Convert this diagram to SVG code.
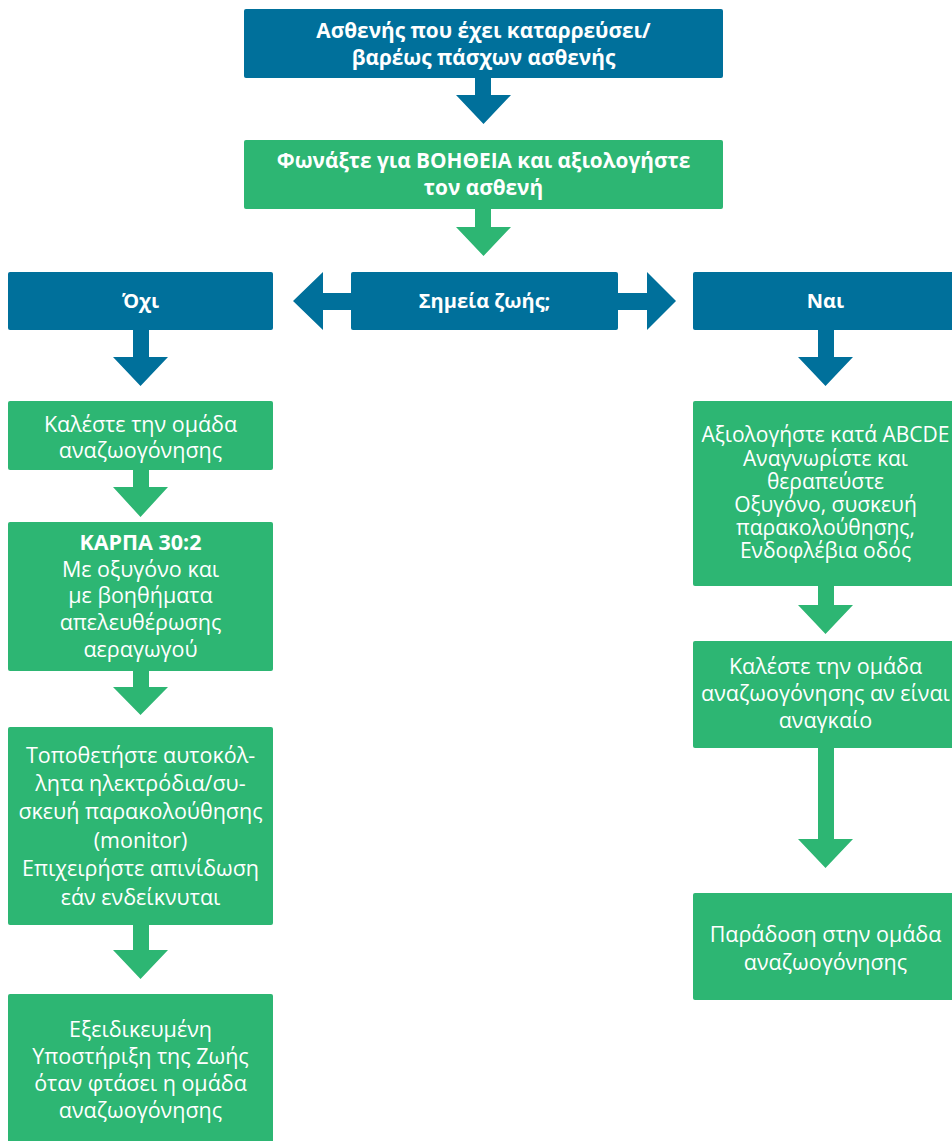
<svg xmlns="http://www.w3.org/2000/svg" width="952" height="1141" viewBox="0 0 952 1141">
<style>
.blue{fill:#00709b}
.green{fill:#2db673}
.t{font-family:"Open Sans","Noto Sans","DejaVu Sans",sans-serif;fill:#fff;text-anchor:middle;font-size:21.5px}
.b{font-weight:bold;font-size:20.8px}
.c{font-weight:bold;font-size:20px}
.s{font-size:21px}
</style>
<rect width="952" height="1141" fill="#fff"/>
<g id="connectors">
<path class="blue" d="M475,77 H491 V95 H511 L483.5,124 L456,95 H475 Z"/>
<path class="green" d="M475,209 H491 V227 H511 L483.5,256 L456,227 H475 Z"/>
<path class="blue" d="M351,293 V310 H323 V330 L293,301 L323,272 V293 Z"/>
<path class="blue" d="M618,293 V310 H647 V330 L676,301 L647,272 V293 Z"/>
<path class="blue" d="M133,329 H149 V357 H168 L140.5,386 L113,357 H133 Z"/>
<path class="blue" d="M818,329 H834 V357 H853 L825.5,386 L798,357 H818 Z"/>
<path class="green" d="M133,470 H149 V487 H168 L140.5,517 L113,487 H133 Z"/>
<path class="green" d="M133,671 H149 V687 H168 L140.5,715 L113,687 H133 Z"/>
<path class="green" d="M133,925 H149 V950 H168 L140.5,979 L113,950 H133 Z"/>
<path class="green" d="M818,586 H834 V605 H853 L825.5,634 L798,605 H818 Z"/>
<path class="green" d="M818,747 H834 V839 H853 L825.5,868 L798,839 H818 Z"/>
</g>
<g id="n1"><rect class="blue" x="244" y="9" width="479" height="69" rx="2"/>
<text class="t b" x="483.5" y="38">Ασθενής που έχει καταρρεύσει/</text>
<text class="t b" x="483.5" y="65">βαρέως πάσχων ασθενής</text></g>
<g id="n2"><rect class="green" x="244" y="140" width="479" height="69" rx="2"/>
<text class="t b" x="483.5" y="168">Φωνάξτε για ΒΟΗΘΕΙΑ και αξιολογήστε</text>
<text class="t b" x="483.5" y="195">τον ασθενή</text></g>
<g id="n3"><rect class="blue" x="8" y="272" width="265" height="58" rx="2"/>
<text class="t c" x="140.5" y="308">Όχι</text></g>
<g id="n4"><rect class="blue" x="351" y="272" width="267" height="58" rx="2"/>
<text class="t c" x="484.5" y="308">Σημεία ζωής;</text></g>
<g id="n5"><rect class="blue" x="693" y="272" width="265" height="58" rx="2"/>
<text class="t c" x="825.5" y="308">Ναι</text></g>
<g id="n6"><rect class="green" x="8" y="401" width="265" height="69" rx="2"/>
<text class="t" x="140.5" y="432">Καλέστε την ομάδα</text>
<text class="t" x="140.5" y="458">αναζωογόνησης</text></g>
<g id="n7"><rect class="green" x="8" y="522" width="265" height="149" rx="2"/>
<text class="t" x="140.5" y="550" font-weight="bold">ΚΑΡΠΑ 30:2</text>
<text class="t" x="140.5" y="577">Με οξυγόνο και</text>
<text class="t" x="140.5" y="603">με βοηθήματα</text>
<text class="t" x="140.5" y="630">απελευθέρωσης</text>
<text class="t" x="140.5" y="657">αεραγωγού</text></g>
<g id="n8"><rect class="green" x="8" y="727" width="265" height="198" rx="2"/>
<text class="t" x="140.5" y="763">Τοποθετήστε αυτοκόλ-</text>
<text class="t" x="140.5" y="791">λητα ηλεκτρόδια/συ-</text>
<text class="t" x="140.5" y="819">σκευή παρακολούθησης</text>
<text class="t" x="140.5" y="848">(monitor)</text>
<text class="t" x="140.5" y="876">Επιχειρήστε απινίδωση</text>
<text class="t" x="140.5" y="905">εάν ενδείκνυται</text></g>
<g id="n9"><rect class="green" x="8" y="994" width="265" height="160" rx="2"/>
<text class="t" x="140.5" y="1037">Εξειδικευμένη</text>
<text class="t" x="140.5" y="1064">Υποστήριξη της Ζωής</text>
<text class="t" x="140.5" y="1091">όταν φτάσει η ομάδα</text>
<text class="t" x="140.5" y="1118">αναζωογόνησης</text></g>
<g id="n10"><rect class="green" x="693" y="401" width="265" height="185" rx="2"/>
<text class="t s" x="825.5" y="442">Αξιολογήστε κατά ABCDE</text>
<text class="t s" x="825.5" y="466">Αναγνωρίστε και</text>
<text class="t s" x="825.5" y="489">θεραπεύστε</text>
<text class="t s" x="825.5" y="512">Οξυγόνο, συσκευή</text>
<text class="t s" x="825.5" y="535">παρακολούθησης,</text>
<text class="t s" x="825.5" y="558">Ενδοφλέβια οδός</text></g>
<g id="n11"><rect class="green" x="693" y="641" width="265" height="107" rx="2"/>
<text class="t" x="825.5" y="674">Καλέστε την ομάδα</text>
<text class="t" x="825.5" y="701">αναζωογόνησης αν είναι</text>
<text class="t" x="825.5" y="728">αναγκαίο</text></g>
<g id="n12"><rect class="green" x="693" y="893" width="265" height="107" rx="2"/>
<text class="t" x="825.5" y="942">Παράδοση στην ομάδα</text>
<text class="t" x="825.5" y="970">αναζωογόνησης</text></g>
</svg>
